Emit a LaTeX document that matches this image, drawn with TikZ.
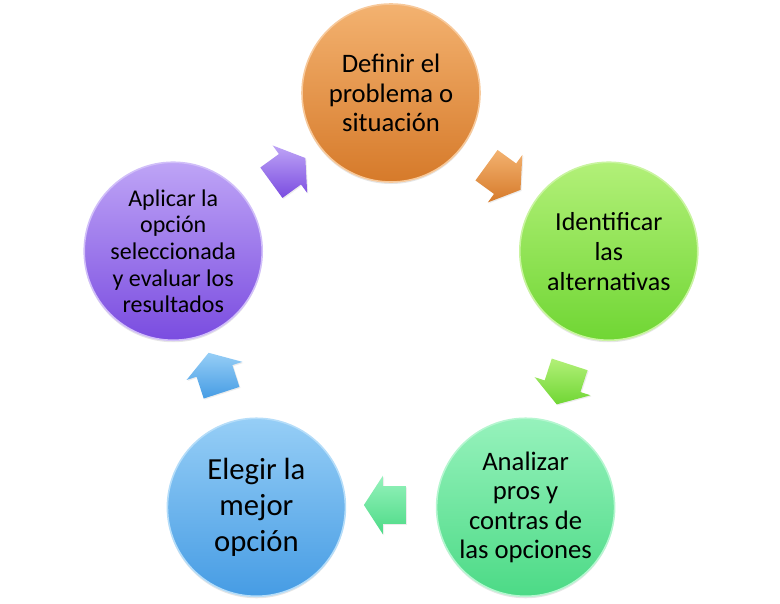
\documentclass[tikz,border=0pt]{standalone}
\usepackage{fontspec}
\setmainfont{Carlito}
\usetikzlibrary{shapes.arrows,shadows}

\definecolor{naranjaA}{RGB}{243,178,112}
\definecolor{naranjaB}{RGB}{214,122,42}
\definecolor{limaA}{RGB}{178,240,120}
\definecolor{limaB}{RGB}{112,214,52}
\definecolor{mentaA}{RGB}{150,242,188}
\definecolor{mentaB}{RGB}{76,218,134}
\definecolor{azulA}{RGB}{150,206,246}
\definecolor{azulB}{RGB}{70,156,228}
\definecolor{moradoA}{RGB}{190,164,246}
\definecolor{moradoB}{RGB}{122,76,224}

\begin{document}
\begin{tikzpicture}
[
    x=0.75pt, y=0.75pt,
    paso/.style 2 args={circle, minimum size=133.5pt, inner sep=0pt, align=center,
        top color=#1, bottom color=#2, draw=#1!70!white, line width=1.2pt,
        drop shadow={opacity=0.2, shadow xshift=0pt, shadow yshift=-1.5pt}},
    flecha/.style 2 args={single arrow, minimum height=31.5pt,
        inner xsep=0pt, inner ysep=13.9pt,
        single arrow head extend=7.9pt, single arrow tip angle=114,
        top color=#1, bottom color=#2, draw=none,
        drop shadow={opacity=0.15, shadow xshift=0.8pt, shadow yshift=-0.8pt}}
]
    \useasboundingbox (0,0) rectangle (780,-603);
    \coordinate (c) at (391,-322);

    % circulos del ciclo
    \node [paso={naranjaA}{naranjaB}, font=\fontsize{20}{22}\selectfont]
        (definir) at ([shift={(90:229)}]c) {Definir el\\problema o\\situación};
    \node [paso={limaA}{limaB}, font=\fontsize{19.5}{22.5}\selectfont]
        (identificar) at ([shift={(18:229)}]c) {Identificar\\las\\alternativas};
    \node [paso={mentaA}{mentaB}, font=\fontsize{20}{22}\selectfont]
        (analizar) at ([shift={(-54:229)}]c) {Analizar\\pros y\\contras de\\las opciones};
    \node [paso={azulA}{azulB}, font=\fontsize{23}{27}\selectfont]
        (elegir) at ([shift={(-126:229)}]c) {Elegir la\\mejor\\opción};
    \node [paso={moradoA}{moradoB}, font=\fontsize{18}{20}\selectfont]
        (aplicar) at ([shift={(162:229)}]c) {Aplicar la\\opción\\seleccionada\\y evaluar los\\resultados};

    % flechas entre pasos
    \node [flecha={naranjaA}{naranjaB}, rotate=-36] (f1) at ([shift={(54:183)}]c) {};
    \node [flecha={limaA}{limaB}, rotate=-108] (f2) at ([shift={(-18:183)}]c) {};
    \node [flecha={mentaA}{mentaB}, rotate=180] (f3) at ([shift={(-90:183)}]c) {};
    \node [flecha={azulA}{azulB}, rotate=108] (f4) at ([shift={(-162:183)}]c) {};
    \node [flecha={moradoA}{moradoB}, rotate=36] (f5) at ([shift={(126:183)}]c) {};
\end{tikzpicture}
\end{document}
